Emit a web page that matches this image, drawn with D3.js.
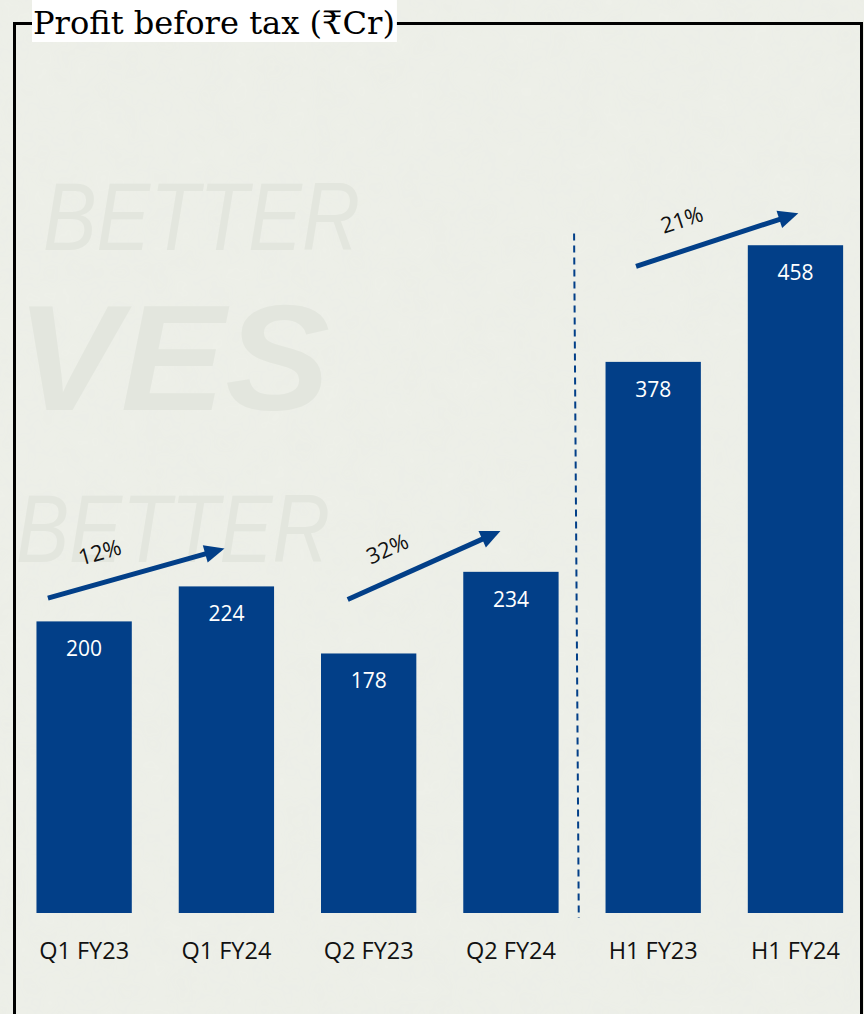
<!DOCTYPE html>
<html>
<head>
<meta charset="utf-8">
<script src="https://cdn.jsdelivr.net/npm/d3@7"></script>
<style>
  html, body { margin: 0; padding: 0; background: #eef0e9; }
  svg { display: block; }
</style>
</head>
<body>
<svg id="chart" width="864" height="1014"></svg>
<script>
// ---- data ----
const categories = ["Q1 FY23", "Q1 FY24", "Q2 FY23", "Q2 FY24", "H1 FY23", "H1 FY24"];
const values = [200, 224, 178, 234, 378, 458];
const titleText = "Profit before tax (\u20B9Cr)";
const growthFrom = ["Q1 FY23", "Q2 FY23", "H1 FY23"];
const growthTo = ["Q1 FY24", "Q2 FY24", "H1 FY24"];
const growthLabels = ["12%", "32%", "21%"];
const watermarkWords = ["BETTER", "VES", "BETTER"];

// ---- layout ----
const W = 864, H = 1014;
const blue = "#023f88";
const svg = d3.select("#chart");

// background
svg.append("rect").attr("width", W).attr("height", H).attr("fill", "#eef0e9");

// subtle paper texture
const defs = svg.append("defs");
const f = defs.append("filter").attr("id", "paper").attr("x", 0).attr("y", 0).attr("width", "100%").attr("height", "100%");
f.append("feTurbulence").attr("type", "fractalNoise").attr("baseFrequency", 0.035).attr("numOctaves", 3).attr("seed", 4).attr("result", "n");
f.append("feColorMatrix").attr("in", "n").attr("type", "matrix")
  .attr("values", "0 0 0 0 0.55  0 0 0 0 0.57  0 0 0 0 0.52  0 0 0 0.09 0");
svg.append("rect").attr("width", W).attr("height", H).attr("filter", "url(#paper)").attr("opacity", 0.6);

// clip inside frame for watermark
defs.append("clipPath").attr("id", "frameClip").append("rect")
  .attr("x", 16).attr("y", 25).attr("width", 844).attr("height", 1000);

const wm = svg.append("g").attr("clip-path", "url(#frameClip)")
  .attr("fill", "#e3e6de").attr("font-family", "Liberation Sans, Arial, sans-serif").attr("font-style", "italic");
wm.append("text").attr("x", 43).attr("y", 250).attr("font-size", 96)
  .attr("textLength", 317).attr("lengthAdjust", "spacingAndGlyphs").text(watermarkWords[0]);
wm.append("text").attr("x", 16).attr("y", 410).attr("font-size", 150).attr("font-weight", 700)
  .attr("textLength", 314).attr("lengthAdjust", "spacingAndGlyphs").text(watermarkWords[1]);
wm.append("text").attr("x", 16).attr("y", 562).attr("font-size", 96)
  .attr("textLength", 314).attr("lengthAdjust", "spacingAndGlyphs").text(watermarkWords[2]);

// scales
const x = d3.scaleBand().domain(categories).range([13, 866.6]).paddingInner(0.33).paddingOuter(0.165);
const y = d3.scaleLinear().domain([0, 500]).range([913, 184]);

// bars
svg.append("g").selectAll("rect").data(values).join("rect")
  .attr("x", (d, i) => x(categories[i]))
  .attr("y", d => y(d))
  .attr("width", x.bandwidth())
  .attr("height", d => y(0) - y(d))
  .attr("fill", blue);

// value labels
svg.append("g").selectAll("text").data(values).join("text")
  .attr("x", (d, i) => x(categories[i]) + x.bandwidth() / 2)
  .attr("y", d => y(d) + 35)
  .attr("text-anchor", "middle")
  .attr("fill", "#ffffff")
  .attr("font-family", "Open Sans, Liberation Sans, sans-serif")
  .attr("font-size", 21)
  .text(d => d);

// category axis
const xAxis = svg.append("g").attr("transform", `translate(0, ${y(0)})`)
  .call(d3.axisBottom(x).tickSize(0).tickPadding(29));
xAxis.select(".domain").remove();
xAxis.selectAll("text")
  .attr("font-family", "Open Sans, Liberation Sans, sans-serif")
  .attr("font-size", 23.5)
  .attr("fill", "#111111")
  .attr("dy", "0.71em");

// dashed separator between quarterly and half-year groups
const gapL = x(categories[3]) + x.bandwidth();
const gapR = x(categories[4]);
svg.append("line")
  .attr("x1", gapL + (gapR - gapL) * 0.33).attr("x2", gapL + (gapR - gapL) * 0.43)
  .attr("y1", y(466)).attr("y2", y(0) + 5)
  .attr("stroke", blue).attr("stroke-width", 2).attr("stroke-dasharray", "7,5");

// growth arrows (anchored to bars via band fraction and value level)
const arrowStartFrac = [0.12, 0.28, 0.32];
const arrowEndFrac = [0.48, 0.39, 0.53];
const arrowStartVal = [216, 215, 443.5];
const arrowEndVal = [250, 262, 480];

growthLabels.forEach((lab, i) => {
  const x0 = x(growthFrom[i]) + x.bandwidth() * arrowStartFrac[i];
  const x1 = x(growthTo[i]) + x.bandwidth() * arrowEndFrac[i];
  const y0 = y(arrowStartVal[i]);
  const y1 = y(arrowEndVal[i]);
  const len = Math.hypot(x1 - x0, y1 - y0);
  const ux = (x1 - x0) / len, uy = (y1 - y0) / len;
  const headLen = 20;
  svg.append("line")
    .attr("x1", x0).attr("y1", y0)
    .attr("x2", x1 - ux * headLen * 0.9).attr("y2", y1 - uy * headLen * 0.9)
    .attr("stroke", blue).attr("stroke-width", 5);
  // arrowhead
  const bx = x1 - ux * headLen, by = y1 - uy * headLen;
  const px = -uy, py = ux, hw = 9;
  svg.append("path")
    .attr("d", `M${x1},${y1} L${bx + px * hw},${by + py * hw} L${bx - px * hw},${by - py * hw} Z`)
    .attr("fill", blue);
  // label
  const ang = Math.atan2(y1 - y0, x1 - x0) * 180 / Math.PI;
  const t = 0.34;
  const lx = x0 + (x1 - x0) * t + uy * 30;
  const ly = y0 + (y1 - y0) * t - ux * 30;
  svg.append("text")
    .attr("transform", `translate(${lx},${ly}) rotate(${ang})`)
    .attr("text-anchor", "middle").attr("dy", "0.35em")
    .attr("font-family", "Open Sans, Liberation Sans, sans-serif")
    .attr("font-size", 22).attr("fill", "#111111")
    .text(lab);
});

// frame
const frame = svg.append("g").attr("fill", "none").attr("stroke", "#000").attr("stroke-width", 3);
frame.append("path").attr("d", `M14.5,${H + 5} L14.5,23.5 L40,23.5`);
frame.append("path").attr("d", `M380,23.5 L861.5,23.5 L861.5,${H + 5}`);

// title with white box
const titleBox = svg.append("rect").attr("x", 32).attr("y", 0).attr("height", 42).attr("fill", "#ffffff");
const title = svg.append("text")
  .attr("x", 33).attr("y", 34)
  .attr("font-family", "DejaVu Serif, Liberation Serif, serif")
  .attr("font-size", 29).attr("fill", "#000")
  .text(titleText);
const tw = title.node().getComputedTextLength();
const targetW = 362;
title.attr("font-size", 29 * targetW / tw);
titleBox.attr("width", title.node().getComputedTextLength() + 3);
</script>
</body>
</html>
